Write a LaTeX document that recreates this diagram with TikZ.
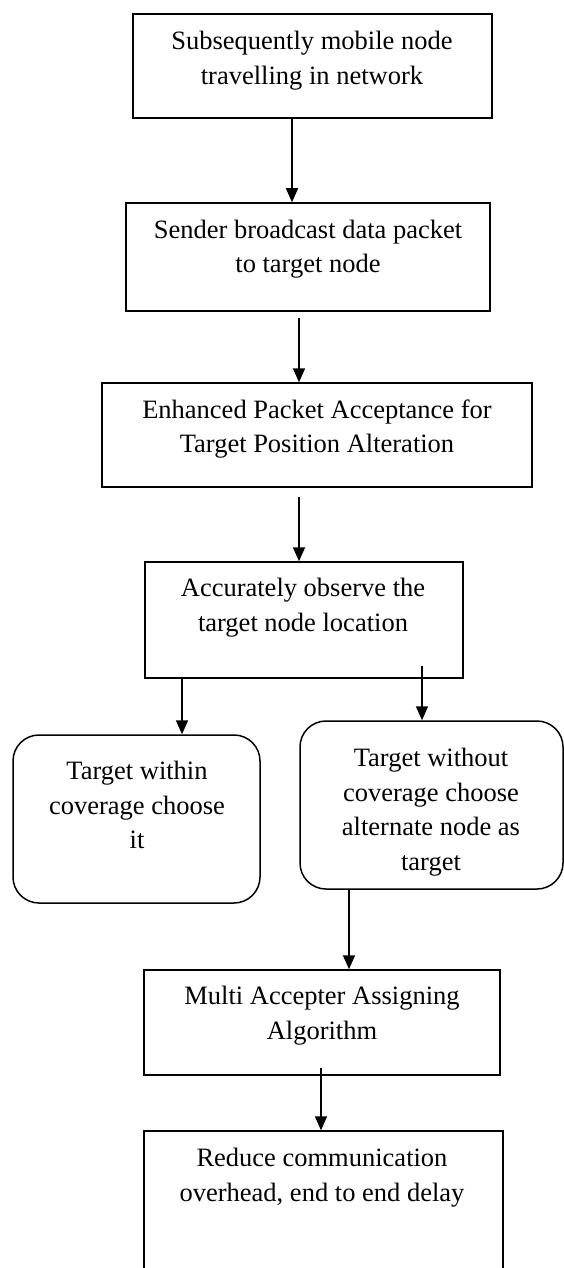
\documentclass[tikz,border=0pt]{standalone}
\usepackage{fontspec}
\setmainfont{Liberation Serif}
\usetikzlibrary{arrows.meta}
\begin{document}
\begin{tikzpicture}[x=1pt,y=-1pt,
  box/.style={draw, line width=1.5pt, rectangle, inner sep=0pt},
  rbox/.style={box, rounded corners=26pt},
  txt/.style={align=center, inner sep=0pt, font=\fontsize{26.5}{34.5}\selectfont},
  arr/.style={line width=1.7pt, -{Triangle[length=14pt,width=12pt]}}]
\useasboundingbox (0,0) rectangle (564,1268);
\clip (0,0) rectangle (564,1268);

% process boxes
\node[box, minimum width=359pt, minimum height=104pt] (b1) at (312.5,66) {};
\node[txt] (t1) at (312,60.5) {Subsequently mobile node\\travelling in network};

\node[box, minimum width=364pt, minimum height=108pt] (b2) at (308,257) {};
\node[txt] (t2) at (308,249) {Sender broadcast data packet\\to target node};

\node[box, minimum width=430pt, minimum height=104pt] (b3) at (317,435) {};
\node[txt] (t3) at (317,429) {Enhanced Packet Acceptance for\\Target Position Alteration};

\node[box, minimum width=318pt, minimum height=116pt] (b4) at (304,620) {};
\node[txt] (t4) at (303,607.5) {Accurately observe the\\target node location};

% decision outcomes
\node[rbox, minimum width=247pt, minimum height=168pt] (l1) at (136.5,819) {};
\node[txt] (tl) at (137,805) {Target within\\coverage choose\\it};

\node[rbox, minimum width=263pt, minimum height=168pt] (r1) at (431.5,805) {};
\node[txt] (tr) at (431,812) {Target without\\coverage choose\\alternate node as\\target};

\node[box, minimum width=356pt, minimum height=105pt] (b5) at (322,1022.5) {};
\node[txt] (t5) at (322,1015.5) {Multi Accepter Assigning\\Algorithm};

\node[box, minimum width=359pt, minimum height=200pt] (b6) at (323.5,1231) {};
\node[txt] (t6) at (322,1177.5) {Reduce communication\\overhead, end to end delay};

% connectors
\draw[arr] ([xshift=-20.5pt]b1.south) -- ([xshift=-16pt]b2.north);
\draw[arr] ([xshift=-9pt,yshift=-6pt]b2.south) -- ([xshift=-18pt]b3.north);
\draw[arr] ([xshift=-18pt,yshift=-9pt]b3.south) -- ([xshift=-5pt]b4.north);
\draw[arr] ([xshift=-122pt]b4.south) -- ([xshift=45.5pt]l1.north);
\draw[arr] ([xshift=118pt,yshift=13pt]b4.south) -- ([xshift=-9.5pt]r1.north);
\draw[arr] ([xshift=-82.5pt]r1.south) -- ([xshift=27pt]b5.north);
\draw[arr] ([yshift=8pt,xshift=-1pt]b5.south) -- ([xshift=-2.5pt]b6.north);
\end{tikzpicture}
\end{document}
